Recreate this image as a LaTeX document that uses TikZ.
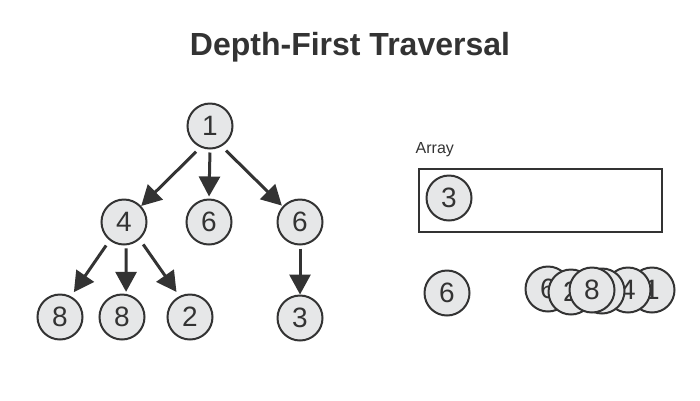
\documentclass[tikz,border=0pt]{standalone}
\usepackage{fontspec}
\setmainfont{Liberation Sans}
\setsansfont{Liberation Sans}
\usepackage{tikz}
\usetikzlibrary{arrows.meta,positioning}
\definecolor{ink}{HTML}{333333}
\definecolor{nodefill}{HTML}{E6E7E8}
\tikzstyle{every picture}+=[font=\sffamily]

\begin{document}
\begin{tikzpicture}
		[x=1pt, y=-1pt, font=\sffamily, inner sep=0pt,
		vertex/.style	= {draw=ink, circle, line width=2pt, fill=nodefill, text=ink, minimum size=45pt, font=\sffamily\fontsize{28}{28}\selectfont},
		edge/.style		= {draw=ink, line width=3pt, -{Triangle[length=20pt, width=21pt]}},
		array/.style	= {draw=ink, rectangle, line width=2pt, minimum width=243pt, minimum height=63pt}]
		
		\useasboundingbox (0,0) rectangle (700,400);
		
		\node [text=ink, font=\sffamily\bfseries\fontsize{32}{32}\selectfont]	at (350,47)	(0)	{Depth-First Traversal};
		
		\node [vertex]	at (210,126)	(1)	{1};
		\node [vertex]	at (124,222)	(2)	{4};
		\node [vertex]	at (209,222)	(3)	{6};
		\node [vertex]	at (300,222)	(4)	{6};
		\node [vertex]	at (60,317)		(5)	{8};
		\node [vertex]	at (122,317)	(6)	{8};
		\node [vertex]	at (190,317)	(7)	{2};
		\node [vertex]	at (300,318)	(8)	{3};
		
		\draw [edge, shorten <=6pt]				(1.-114)	-- (2.43);
		\draw [edge, shorten <=3pt, shorten >=2pt]	(1.-90)	-- (3.90);
		\draw [edge, shorten <=6pt, shorten >=1pt]	(1.-60)	-- (4.138);
		\draw [edge, shorten <=6pt, shorten >=5pt]	(2.-128)	-- (5.62);
		\draw [edge, shorten <=3pt, shorten >=2pt]	(2.-85)	-- (6.80);
		\draw [edge, shorten <=6pt, shorten >=5pt]	(2.-48)	-- (7.117);
		\draw [edge, shorten <=3pt]				(4.-90)	-- (8.90);
		
		\node [array]	at (540,200)	(10)	{};
		\node [text=ink, font=\sffamily\fontsize{16}{16}\selectfont]	[above right = 10pt and -2pt of 10.north west]	(11)	{Array};
		\node [vertex]	at (449,198)	(12)	{3};
		
		\node [vertex]	at (447,293)	(13)	{6};
		
		\node [vertex]	at (652,290)	(14)	{1};
		\node [vertex]	at (628,290)	(15)	{4};
		\node [vertex]	at (602,291)	(16)	{8};
		\node [vertex]	at (548,289)	(17)	{6};
		\node [vertex]	at (571,292)	(18)	{2};
		\node [vertex]	at (592,290)	(19)	{8};
\end{tikzpicture}
\end{document}
